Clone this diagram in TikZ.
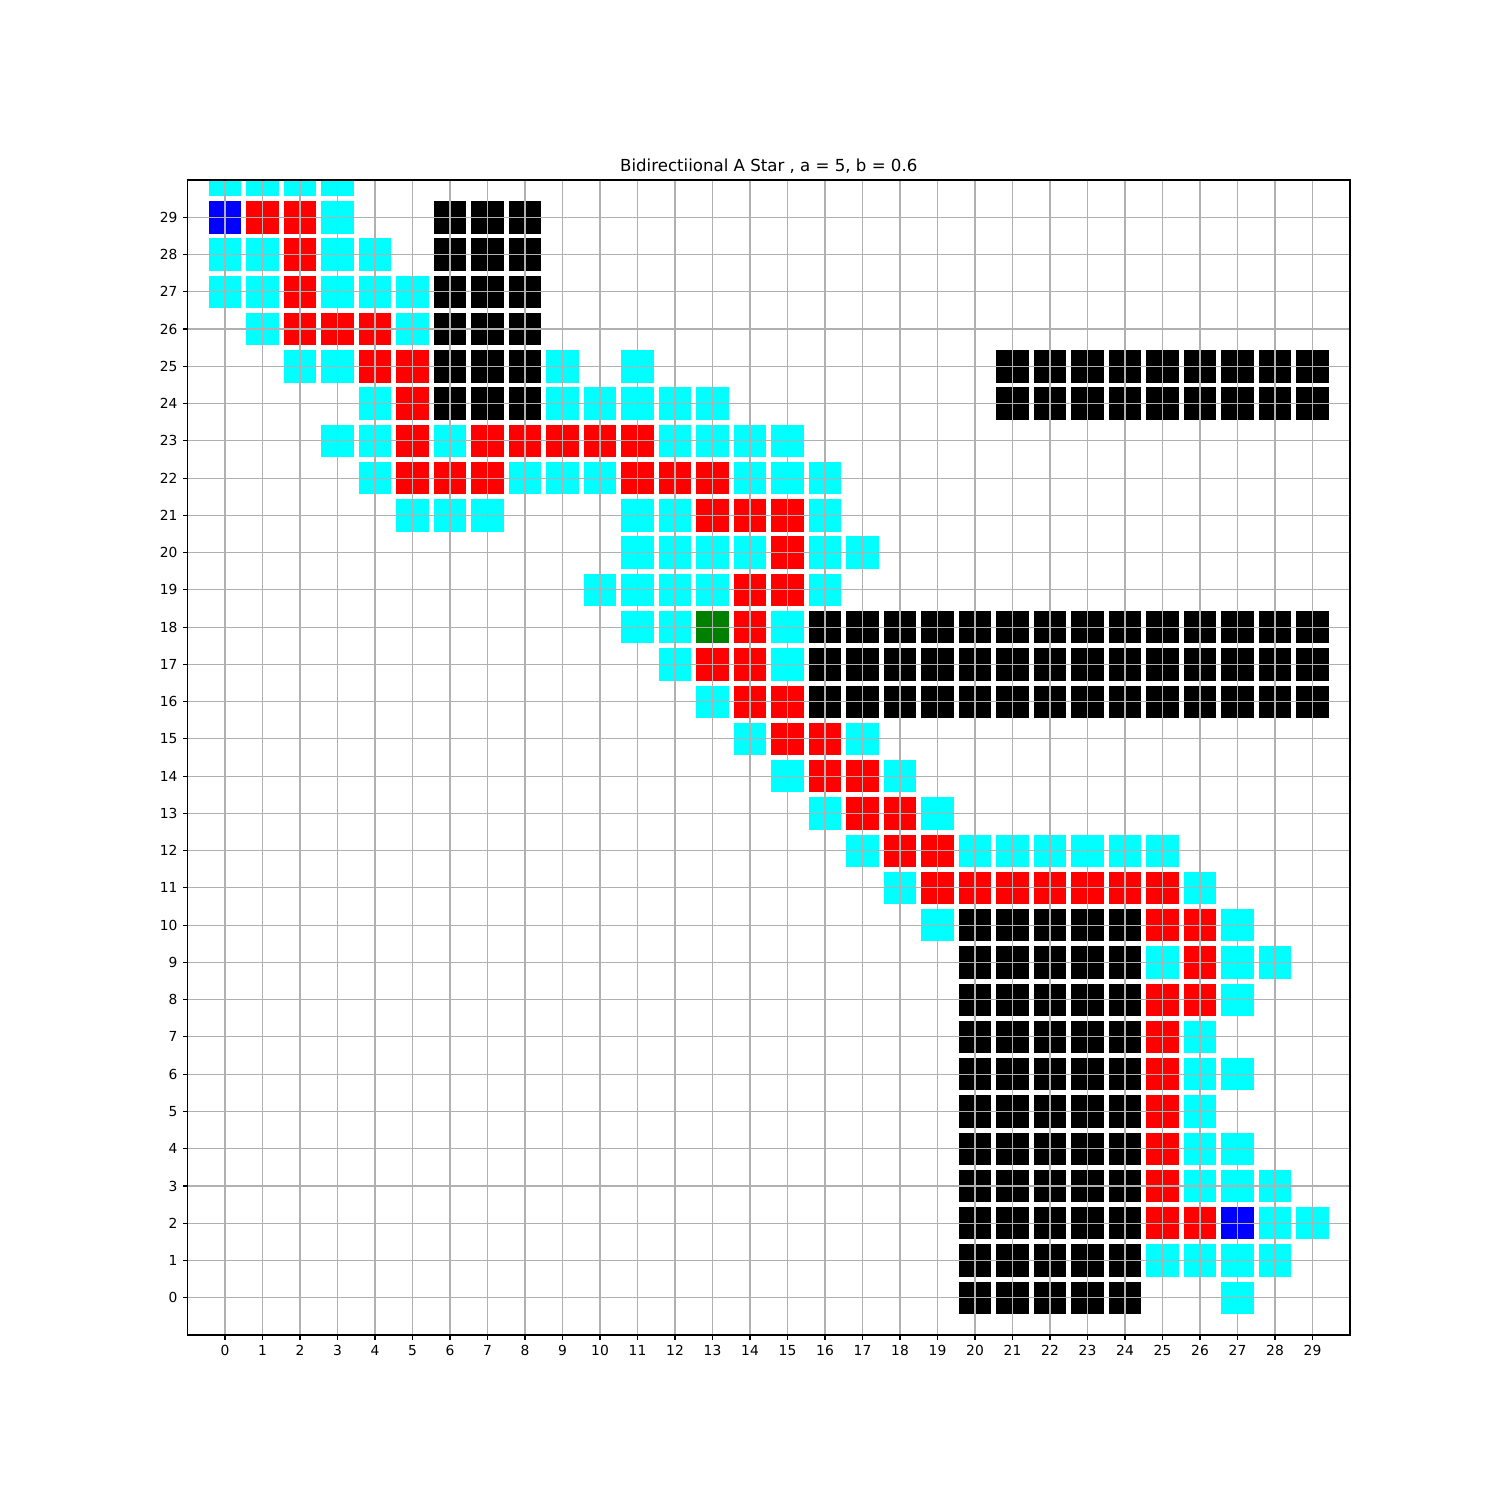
\documentclass[tikz,border=0pt]{standalone}
\usepackage{fontspec}
\setmainfont{DejaVu Sans}
\usepackage{tikz}
\usetikzlibrary{positioning}

\definecolor{mplgreen}{RGB}{0,128,0}
\definecolor{mplcyan}{RGB}{0,255,255}
\definecolor{mplred}{RGB}{255,0,0}
\definecolor{mplblue}{RGB}{0,0,255}
\definecolor{gridgray}{RGB}{176,176,176}

\begin{document}
\begin{tikzpicture}[x=0.9525cm, y=0.946355cm,
  cell/.style={rectangle, inner sep=0pt, minimum size=24bp, draw=white, line width=0.6bp},
  wall/.style={cell, fill=black},
  seen/.style={cell, fill=mplcyan},
  route/.style={cell, fill=mplred},
  ends/.style={cell, fill=mplblue},
  meet/.style={cell, fill=mplgreen},
  gridln/.style={draw=gridgray, line width=0.8bp},
  ticklbl/.style={font=\fontsize{10}{12}\selectfont, inner sep=0pt}]

\useasboundingbox (-6,-5.4286) rectangle (34,34.8312);

\begin{scope}
\clip (-1,-1) rectangle (30,30);

% obstacles
\foreach \x in {6,7,8}{\foreach \y in {24,...,29}{\node[wall] (w\x-\y) at (\x,\y) {};}}
\foreach \x in {21,...,29}{\foreach \y in {24,25}{\node[wall] (w\x-\y) at (\x,\y) {};}}
\foreach \x in {16,...,29}{\foreach \y in {16,17,18}{\node[wall] (w\x-\y) at (\x,\y) {};}}
\foreach \x in {20,...,24}{\foreach \y in {0,...,10}{\node[wall] (w\x-\y) at (\x,\y) {};}}

% visited cells of both searches
\foreach \x/\y in {0/30,1/30,2/30,3/30,3/29,0/28,1/28,3/28,4/28,0/27,1/27,3/27,4/27,5/27,
  1/26,5/26,2/25,3/25,9/25,11/25,4/24,9/24,10/24,11/24,12/24,13/24,
  3/23,4/23,6/23,12/23,13/23,14/23,15/23,4/22,8/22,9/22,10/22,14/22,15/22,16/22,
  5/21,6/21,7/21,11/21,12/21,16/21,11/20,12/20,13/20,14/20,16/20,17/20,
  10/19,11/19,12/19,13/19,16/19,11/18,12/18,15/18,12/17,15/17,13/16,
  14/15,17/15,15/14,18/14,16/13,19/13,17/12,20/12,21/12,22/12,23/12,24/12,25/12,
  18/11,26/11,19/10,27/10,25/9,27/9,28/9,27/8,26/7,26/6,27/6,26/5,26/4,27/4,
  26/3,27/3,28/3,28/2,29/2,25/1,26/1,27/1,28/1,27/0}
  {\node[seen] (s\x-\y) at (\x,\y) {};}

% the path found
\foreach \x/\y in {1/29,2/29,2/28,2/27,2/26,3/26,4/26,4/25,5/25,5/24,5/23,7/23,8/23,9/23,10/23,11/23,
  5/22,6/22,7/22,11/22,12/22,13/22,13/21,14/21,15/21,15/20,14/19,15/19,14/18,13/17,14/17,
  14/16,15/16,15/15,16/15,16/14,17/14,17/13,18/13,18/12,19/12,19/11,20/11,21/11,22/11,
  23/11,24/11,25/11,25/10,26/10,26/9,25/8,26/8,25/7,25/6,25/5,25/4,25/3,25/2,26/2}
  {\node[route] (r\x-\y) at (\x,\y) {};}

% start, goal and meeting point
\node[ends] (start) at (0,29) {};
\node[ends] (goal) at (27,2) {};
\node[meet] (meeting) at (13,18) {};
\end{scope}

% grid on top
\foreach \i in {0,...,29}{%
  \draw[gridln] (\i,-1) -- (\i,30);
  \draw[gridln] (-1,\i) -- (30,\i);}

% axes, ticks and labels
\draw[line width=0.8bp] (-1,-1) rectangle (30,30);
\foreach \i in {0,...,29}{%
  \draw[line width=0.8bp] (\i,-1) -- ++(0pt,-3.5bp);
  \draw[line width=0.8bp] (-1,\i) -- ++(-3.5bp,0pt);
  \node[ticklbl, anchor=north, yshift=-7bp] (xl\i) at (\i,-1) {\i};
  \node[ticklbl, anchor=east, xshift=-7bp] (yl\i) at (-1,\i) {\i};}

\node[anchor=base, inner sep=0pt, font=\fontsize{12}{14}\selectfont] (title) at ([yshift=6bp]14.5,30)
  {Bidirectiional A Star , a = 5, b = 0.6};
\end{tikzpicture}
\end{document}
